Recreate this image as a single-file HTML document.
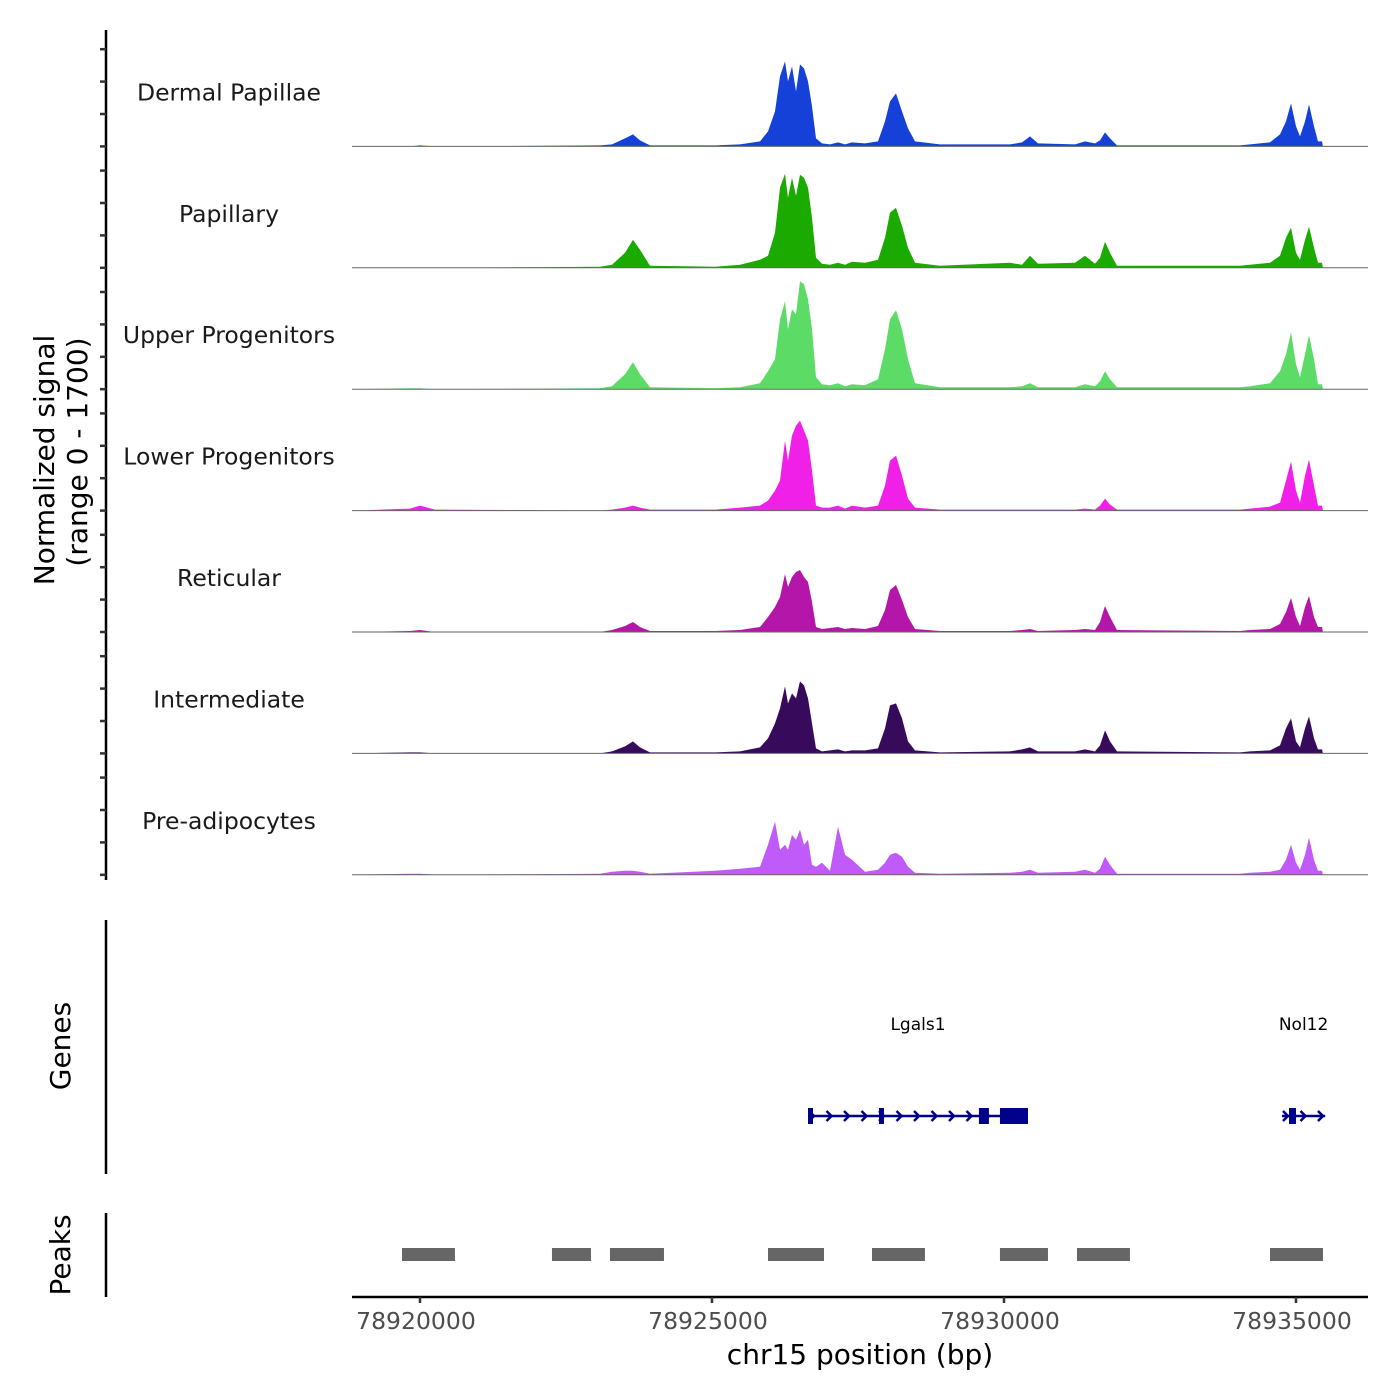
<!DOCTYPE html>
<html><head><meta charset="utf-8"><style>
body{margin:0;background:#fff;}
svg{display:block;font-family:"DejaVu Sans","Liberation Sans",sans-serif;}
</style></head><body>
<svg id="chart" width="1400" height="1400" viewBox="0 0 1400 1400">
<g id="tracks"></g>
<g id="yaxis"></g>
<text x="54" y="460" font-size="28" text-anchor="middle" transform="rotate(-90 54 460)">Normalized signal</text>
<text x="87" y="452" font-size="28" text-anchor="middle" transform="rotate(-90 87 452)">(range 0 - 1700)</text>
<line x1="106" y1="920" x2="106" y2="1174" stroke="#000" stroke-width="2.5"/>
<text x="70" y="1046" font-size="28" text-anchor="middle" transform="rotate(-90 70 1046)">Genes</text>
<g id="genes"></g>
<line x1="106" y1="1213" x2="106" y2="1297" stroke="#000" stroke-width="2.5"/>
<text x="70" y="1255" font-size="28" text-anchor="middle" transform="rotate(-90 70 1255)">Peaks</text>
<g id="peaks"></g>
<g id="xaxis"></g>
<text x="860" y="1364" font-size="28" text-anchor="middle">chr15 position (bp)</text>
</svg>
<script>
const trackNames = ["Dermal Papillae","Papillary","Upper Progenitors","Lower Progenitors","Reticular","Intermediate","Pre-adipocytes"];
const trackColors = ["#1541d9","#1aaa00","#5cdc66","#f020e8","#b316a8","#380a5c","#c05af8"];
const positions = [78918836,78919829,78920000,78920257,78923082,78923288,78923510,78923647,78923767,78923938,78925051,78925479,78925822,78925959,78926079,78926164,78926250,78926301,78926370,78926438,78926507,78926575,78926644,78926712,78926781,78926884,78927021,78927158,78927277,78927397,78927620,78927842,78927962,78928048,78928151,78928253,78928356,78928476,78928904,78930103,78930308,78930445,78930582,78931216,78931387,78931558,78931644,78931729,78931815,78931935,78934041,78934212,78934555,78934726,78934829,78934914,78935000,78935068,78935154,78935222,78935308,78935377,78935445,78935460];
const sigDermal = [0,0,1,0,1,2,8,12,6,1,1,2,5,15,35,70,85,65,80,55,82,78,65,40,8,3,2,4,2,4,3,5,25,45,53,35,18,5,2,2,4,10,3,2,5,3,6,14,8,1,1,2,4,12,25,43,20,10,25,42,20,5,5,0];
const sigPapillary = [0,0,0,0,1,3,15,28,18,2,1,3,8,12,35,80,94,70,90,72,93,90,80,50,10,4,3,5,3,6,5,8,30,55,60,42,20,5,2,5,3,12,4,5,12,4,10,26,15,2,2,3,5,12,30,40,15,8,28,41,20,5,5,0];
const sigUpper = [0,1,1,0,1,3,15,27,15,2,1,2,6,18,30,70,88,60,80,75,108,105,90,60,12,5,4,6,3,5,4,10,40,70,79,60,30,6,2,2,3,6,2,2,5,3,8,18,10,2,2,3,6,18,35,57,25,12,35,54,30,5,5,0];
const sigLower = [0,2,5,1,0,1,3,5,3,1,1,3,5,10,20,30,70,50,75,85,90,80,70,40,5,3,3,5,2,5,3,5,25,50,55,35,12,3,1,1,1,1,1,1,2,1,5,12,6,1,1,2,4,8,30,49,20,8,35,51,25,5,5,0];
const sigReticular = [0,1,2,0,0,2,6,10,5,1,1,2,5,15,25,35,58,45,55,60,62,55,50,30,5,3,4,5,3,4,3,6,22,42,47,32,15,3,1,1,2,3,1,2,3,2,10,26,15,2,1,2,3,8,20,34,15,6,25,36,15,5,5,0];
const sigIntermediate = [0,1,1,0,0,2,7,12,6,1,1,2,6,15,30,45,67,50,60,55,72,68,55,30,5,2,3,4,2,3,3,5,25,48,50,35,12,3,1,2,4,6,2,2,4,2,8,23,12,2,1,2,3,8,25,35,12,6,25,37,15,4,4,0];
const sigPreadipo = [0,1,1,0,1,3,4,4,3,1,4,6,8,30,53,25,30,25,40,35,45,30,35,10,8,12,4,48,20,15,3,5,12,20,22,18,8,2,1,2,3,5,2,3,5,2,6,18,10,1,1,2,3,5,15,30,12,5,20,37,15,4,4,0];
const trackSignals = [sigDermal,sigPapillary,sigUpper,sigLower,sigReticular,sigIntermediate,sigPreadipo];
const xTicks = [78920000,78925000,78930000,78935000];
const peakStarts = [78919692,78922260,78923253,78925959,78927740,78929931,78931250,78934555];
const peakEnds = [78920599,78922928,78924178,78926918,78928647,78930753,78932157,78935462];
const geneNames = ["Lgals1","Nol12"];
const geneStarts = [78926644,78934760];
const geneEnds = [78930411,78935500];
const exonStarts = [78926644,78927860,78929571,78929931,78934880];
const exonEnds = [78926730,78927945,78929742,78930411,78935000];

const NS="http://www.w3.org/2000/svg";
const X0=352,X1=1368,D0=78918836,D1=78936233;
function xs(v){return X0+(v-D0)/(D1-D0)*(X1-X0);}
const trackTop=25, trackH=121.4, yMax=121.4;
function ys(v,i){const base=trackTop+(i+1)*trackH; return base - v/yMax*trackH;}
function mk(tag,attrs,parent){const e=document.createElementNS(NS,tag);for(const k in attrs)e.setAttribute(k,attrs[k]);parent.appendChild(e);return e;}

const gT=document.getElementById('tracks');
trackNames.forEach((name,i)=>{
  const base=ys(0,i);
  const sig=trackSignals[i];
  let d=`M${xs(positions[0])},${base}`;
  positions.forEach((p,j)=>{d+=` L${xs(p).toFixed(1)},${ys(sig[j],i).toFixed(1)}`;});
  d+=` L${xs(positions[positions.length-1])},${base} Z`;
  const area=mk('path',{d:d,fill:trackColors[i]},gT);
  
  
  const bl=mk('line',{x1:X0,x2:X1,y1:base,y2:base,stroke:'#666','stroke-width':1},gT);
  
  
  const t=mk('text',{x:229,y:base-46,'font-size':23.5,'text-anchor':'middle',fill:'#1a1a1a'},gT);
  t.textContent=name;
  
  
});

const gY=document.getElementById('yaxis');
const yl=mk('line',{x1:106,x2:106,y1:30,y2:880,stroke:'#000','stroke-width':2.5},gY);


for(let i=0;i<7;i++){for(let k=0;k<4;k++){
  const y=ys(0,i)-k*32.4;
  const tk=mk('line',{x1:100,x2:106,y1:y,y2:y,stroke:'#333','stroke-width':2.5},gY);
  
  
}}

const gG=document.getElementById('genes');
const gy=1116, gc='#00008b';
geneNames.forEach((n,i)=>{
  const a=xs(geneStarts[i]),b=xs(geneEnds[i]);
  const ln=mk('line',{x1:a,x2:b,y1:gy,y2:gy,stroke:gc,'stroke-width':2.5},gG);
  
  
  for(let x=a+5;x<=b+1;x+=17.5){
    const ar=mk('path',{d:`M${x-4},${gy-5} L${x+1},${gy} L${x-4},${gy+5}`,stroke:gc,'stroke-width':2.5,fill:'none'},gG);
    
    
  }
  const tx=mk('text',{x:(a+b)/2,y:1030,'font-size':17,'text-anchor':'middle'},gG);
  tx.textContent=n;
  
  
});
exonStarts.forEach((s,i)=>{
  const a=xs(s),b=xs(exonEnds[i]);
  const r=mk('rect',{x:a,y:gy-8,width:Math.max(b-a,3),height:16,fill:gc},gG);
  
  
});

const gP=document.getElementById('peaks');
peakStarts.forEach((s,i)=>{
  const r=mk('rect',{x:xs(s),y:1248,width:xs(peakEnds[i])-xs(s),height:13,fill:'#666'},gP);
  
  
});

const gX=document.getElementById('xaxis');
const xl=mk('line',{x1:X0,x2:X1,y1:1297,y2:1297,stroke:'#000','stroke-width':2.5},gX);


xTicks.forEach(v=>{
  const x=xs(v);
  const tk=mk('line',{x1:x,x2:x,y1:1297,y2:1303,stroke:'#333','stroke-width':2.5},gX);
  
  
  const t=mk('text',{x:x-4,y:1329,'font-size':23.5,'text-anchor':'middle',fill:'#4d4d4d'},gX);
  t.textContent=String(v);
  
  
});
</script>
</body></html>
